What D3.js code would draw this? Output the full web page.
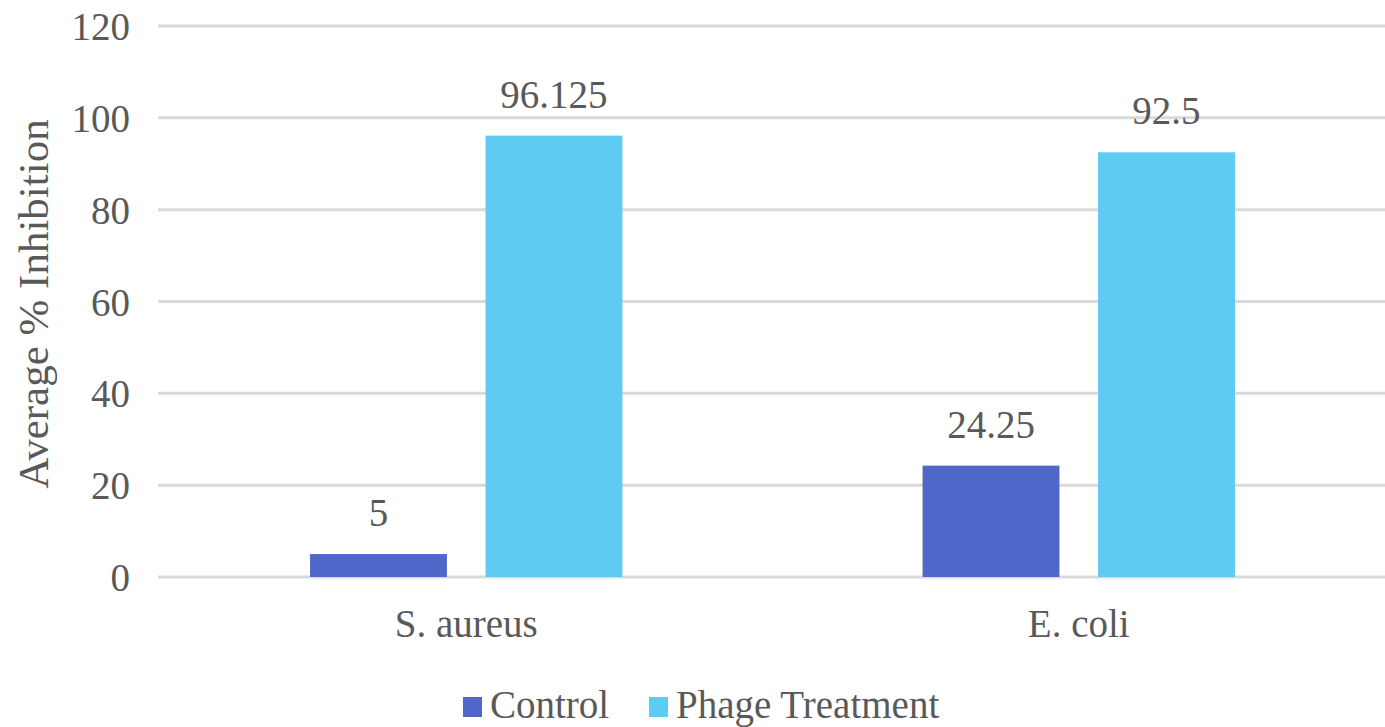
<!DOCTYPE html>
<html>
<head>
<meta charset="utf-8">
<script src="https://cdn.jsdelivr.net/npm/d3@7"></script>
<style>
  html, body { margin: 0; padding: 0; background: #fff; }
</style>
</head>
<body>
<div id="chart"></div>
<script>
// Average % inhibition, control vs phage treatment
var categories = ["S. aureus", "E. coli"];
var seriesNames = ["Control", "Phage Treatment"];
var controlValues = [5, 24.25];
var phageValues = [96.125, 92.5];
var yTicks = [0, 20, 40, 60, 80, 100, 120];
var colors = ["#4e67c8", "#5ecbf3"];

(function () {
    "use strict";
    var width = 1385, height = 727;
    var m = { top: 26, right: 0, bottom: 150, left: 160 };
    var FONT = "'Liberation Serif'";
    var INK = "#595959";
    var fs = 39;

    function txt(sel, size) {
        return sel.attr("font-family", null).style("font-family", FONT)
            .style("font-size", size + "px").style("fill", INK);
    }

    var svg = d3.select("#chart").append("svg").attr("width", width).attr("height", height);

    var x0 = d3.scaleBand().domain(categories).range([m.left, width - m.right])
        .paddingInner(0.49).paddingOuter(0.245);
    var x1 = d3.scaleBand().domain(seriesNames).range([0, x0.bandwidth()]).paddingInner(0.22);
    var y = d3.scaleLinear().domain([0, 120]).range([height - m.bottom, m.top]);

    // gridlines
    svg.append("g").selectAll("line").data(yTicks).enter().append("line")
        .attr("x1", m.left - 2).attr("x2", width)
        .attr("y1", function (d) { return y(d); }).attr("y2", function (d) { return y(d); })
        .attr("stroke", "#d9d9d9").attr("stroke-width", 3);

    // y axis labels
    var yAxis = svg.append("g").attr("transform", "translate(" + (m.left - 30) + ",0)")
        .call(d3.axisLeft(y).tickValues(yTicks).tickSize(0).tickPadding(0));
    yAxis.select(".domain").remove();
    yAxis.attr("font-family", null).attr("font-size", null);
    txt(yAxis.selectAll("text").attr("dy", "0.35em"), fs);

    txt(svg.append("text").attr("transform", "translate(48," + 304 + ") rotate(-90)")
        .attr("text-anchor", "middle").text("Average % Inhibition"), 43);

    // bars
    var rows = categories.map(function (c, i) {
        return { cat: c, vals: [controlValues[i], phageValues[i]] };
    });
    var groups = svg.selectAll("g.grp").data(rows).enter().append("g").attr("class", "grp")
        .attr("transform", function (d) { return "translate(" + x0(d.cat) + ",0)"; });
    var bars = groups.selectAll("g.bar").data(function (d) {
        return d.vals.map(function (v, j) { return { s: seriesNames[j], v: v, j: j }; });
    }).enter().append("g").attr("class", "bar");
    bars.append("rect")
        .attr("x", function (d) { return x1(d.s); })
        .attr("y", function (d) { return y(d.v); })
        .attr("width", x1.bandwidth())
        .attr("height", function (d) { return y(0) - y(d.v); })
        .attr("fill", function (d) { return colors[d.j]; });
    txt(bars.append("text")
        .attr("x", function (d) { return x1(d.s) + x1.bandwidth() / 2; })
        .attr("y", function (d) { return y(d.v) - 28; })
        .attr("text-anchor", "middle")
        .text(function (d) { return d.v; }), fs);

    // category labels
    var xAxis = svg.append("g").attr("transform", "translate(0," + y(0) + ")")
        .call(d3.axisBottom(x0).tickSize(0).tickPadding(0));
    xAxis.select(".domain").remove();
    xAxis.attr("font-family", null).attr("font-size", null);
    txt(xAxis.selectAll("text").attr("dy", null).attr("y", 60), fs);

    // legend
    var legX = [463, 649];
    var leg = svg.append("g").selectAll("g").data(seriesNames).enter().append("g")
        .attr("transform", function (d, i) { return "translate(" + legX[i] + ",697)"; });
    leg.append("rect").attr("width", 19).attr("height", 20)
        .attr("fill", function (d, i) { return colors[i]; });
    txt(leg.append("text").attr("x", 27).attr("y", 21)
        .text(function (d) { return d; }), fs);
})();
</script>
</body>
</html>
